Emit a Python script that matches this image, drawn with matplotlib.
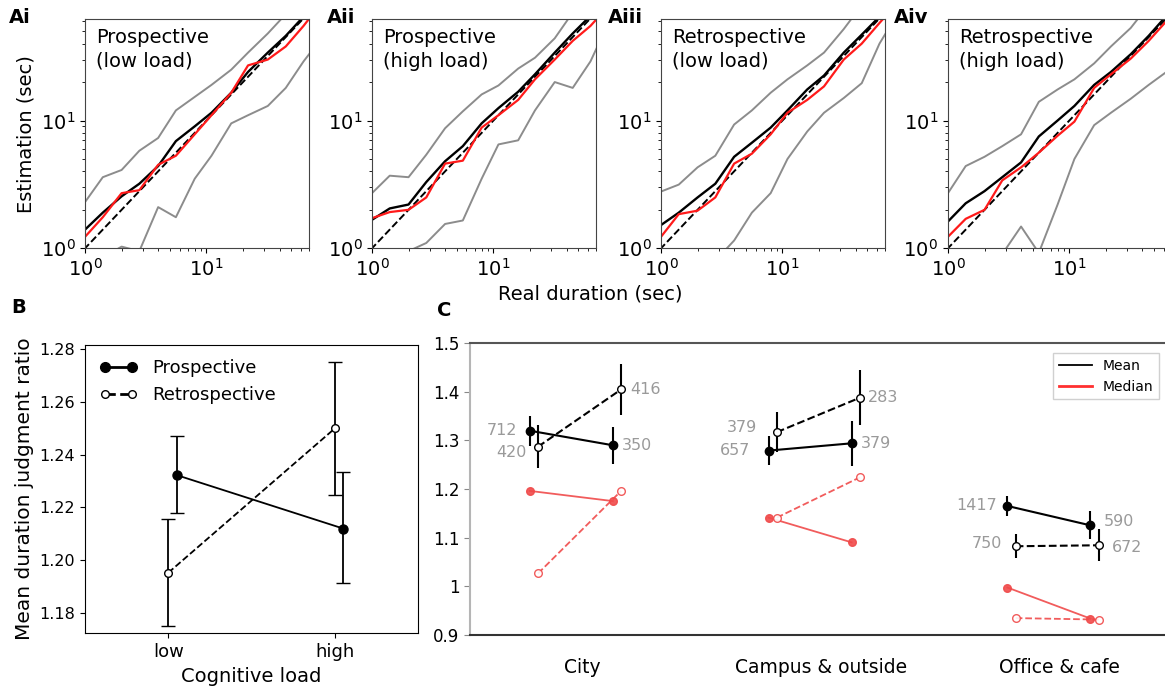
import matplotlib.pyplot as plt
from matplotlib.lines import Line2D

plt.rcParams['font.family'] = 'DejaVu Sans'

# ---- panel A data: real durations (sec) and estimations (sec)
real_dur = [1, 1.4, 2, 2.8, 4, 5.6, 8, 11, 16, 22, 32, 45, 63, 90]

a_tags = ['Ai', 'Aii', 'Aiii', 'Aiv']
a_titles = ['Prospective\n(low load)', 'Prospective\n(high load)',
            'Retrospective\n(low load)', 'Retrospective\n(high load)']

a_mean = [
    [1.4, 1.9, 2.55, 3.2, 4.4, 6.9, 9.0, 11.5, 16.5, 24, 34, 46, 65, 90],
    [1.67, 2.05, 2.2, 3.3, 4.8, 6.3, 9.5, 12.5, 16.8, 23, 34, 48, 66, 92],
    [1.52, 1.9, 2.5, 3.2, 5.2, 6.7, 8.8, 12, 17.5, 22.5, 34, 47, 65, 90],
    [1.62, 2.25, 2.8, 3.6, 4.7, 7.5, 10, 13, 19, 24, 33, 46, 66, 90],
]
a_median = [
    [1.23, 1.75, 2.7, 2.85, 4.5, 5.3, 7.8, 11, 16.5, 27, 30, 38, 55, 85],
    [1.72, 1.92, 2.0, 2.5, 4.6, 4.85, 8.8, 11, 14.5, 21, 30, 42, 55, 80],
    [1.23, 1.85, 1.97, 2.5, 4.6, 5.5, 7.8, 11.5, 14.5, 18.5, 30, 40, 58, 85],
    [1.23, 1.7, 2.0, 3.4, 4.3, 5.6, 7.6, 9.8, 18, 23, 30.5, 42, 60, 85],
]
a_upper = [
    [2.3, 3.6, 4.1, 5.8, 7.3, 12, 15.3, 19, 25, 34, 48, 68, 95, 130],
    [2.7, 3.7, 3.6, 5.4, 8.7, 11.8, 16, 18.8, 25.5, 31, 44, 70, 100, 140],
    [2.78, 3.15, 4.3, 5.3, 9.3, 12, 16.5, 21, 27, 34, 52, 80, 110, 150],
    [2.7, 4.4, 5.2, 6.3, 7.8, 14, 17.5, 21, 28, 38, 53, 80, 110, 150],
]
a_lower = [
    [0.6, 0.85, 1.03, 0.95, 2.1, 1.75, 3.5, 5.3, 9.5, 11, 13, 18, 29, 45],
    [0.75, 0.85, 0.95, 1.1, 1.55, 1.65, 3.5, 6.5, 7.0, 12, 20, 18, 29, 60],
    [0.4, 0.5, 0.62, 0.8, 1.15, 1.9, 2.7, 5.0, 8.2, 11.5, 15, 19.6, 40, 70],
    [0.5, 0.6, 0.7, 0.9, 1.48, 0.92, 2.2, 5.0, 9.2, 11.5, 14.8, 19, 24, 35],
]

# ---- panel B data
b_loads = ['low', 'high']
b_pro = [1.2323, 1.2120]
b_pro_lo = [1.2180, 1.1912]
b_pro_hi = [1.2471, 1.2333]
b_retro = [1.1952, 1.2500]
b_retro_lo = [1.1750, 1.2247]
b_retro_hi = [1.2158, 1.2753]

# ---- panel C data (low load, high load) per place
c_places = ['City', 'Campus & outside', 'Office & cafe']
c_mean_pro = [[1.320, 1.290], [1.279, 1.294], [1.165, 1.125]]
c_err_pro = [[0.031, 0.038], [0.030, 0.046], [0.020, 0.029]]
c_mean_retro = [[1.287, 1.405], [1.317, 1.388], [1.082, 1.084]]
c_err_retro = [[0.044, 0.052], [0.041, 0.056], [0.025, 0.033]]
c_med_pro = [[1.196, 1.175], [1.141, 1.090], [0.997, 0.933]]
c_med_retro = [[1.026, 1.196], [1.141, 1.224], [0.934, 0.931]]
c_n_pro = [[712, 350], [657, 379], [1417, 590]]
c_n_retro = [[420, 416], [379, 283], [750, 672]]

fig = plt.figure(figsize=(11.65, 6.91), dpi=100)

# ---------------- A panels
a_lefts = [0.073, 0.3193, 0.5674, 0.8137]
tag_x = [0.008, 0.281, 0.522, 0.767]
for i in range(4):
    ax = fig.add_axes([a_lefts[i], 0.6407, 0.1923, 0.3314])
    ax.plot([0.5, 200], [0.5, 200], 'k--', lw=1.4)
    ax.plot(real_dur, a_upper[i], color='#8c8c8c', lw=1.4)
    ax.plot(real_dur, a_lower[i], color='#8c8c8c', lw=1.4)
    ax.plot(real_dur, a_mean[i], color='k', lw=1.7)
    ax.plot(real_dur, a_median[i], color='#ff1a1a', lw=1.6)
    ax.set_xscale('log')
    ax.set_yscale('log')
    ax.set_xlim(1, 70)
    ax.set_ylim(1, 62)
    ax.tick_params(labelsize=14)
    ax.text(0.05, 0.96, a_titles[i], transform=ax.transAxes, ha='left',
            va='top', fontsize=14, linespacing=1.3)
    fig.text(tag_x[i], 0.988, a_tags[i], fontsize=14,
             fontweight='bold', va='top', ha='left')
    for s in ax.spines.values():
        s.set_color('#444444')
    if i == 0:
        ax.set_ylabel('Estimation (sec)', fontsize=14)
fig.text(0.507, 0.575, 'Real duration (sec)', fontsize=14, ha='center',
         va='center')

# ---------------- B panel
axb = fig.add_axes([0.073, 0.0835, 0.2858, 0.4172])
xb = list(range(len(b_loads)))
xb_pro = [x + 0.05 for x in xb]
axb.errorbar(xb_pro, b_pro,
             yerr=[[m - l for m, l in zip(b_pro, b_pro_lo)],
                   [h - m for m, h in zip(b_pro, b_pro_hi)]],
             color='k', lw=1.3, capsize=5, marker='o', ms=6.5, mfc='k')
axb.errorbar(xb, b_retro,
             yerr=[[m - l for m, l in zip(b_retro, b_retro_lo)],
                   [h - m for m, h in zip(b_retro, b_retro_hi)]],
             color='k', lw=1.3, ls='--', capsize=5, marker='o', ms=5.5,
             mfc='w', mec='k')
axb.set_xlim(-0.5, 1.5)
axb.set_ylim(1.1722, 1.2817)
axb.set_xticks(xb)
axb.set_xticklabels(b_loads, fontsize=13)
axb.set_yticks([1.18, 1.20, 1.22, 1.24, 1.26, 1.28])
axb.set_yticklabels(['1.18', '1.20', '1.22', '1.24', '1.26', '1.28'],
                    fontsize=11.5)
axb.set_xlabel('Cognitive load', fontsize=14)
axb.set_ylabel('Mean duration judgment ratio', fontsize=14.5)
hb = [Line2D([], [], color='k', lw=2, marker='o', ms=7, mfc='k'),
      Line2D([], [], color='k', lw=2, ls='--', marker='o', ms=5.5, mfc='w')]
axb.legend(hb, ['Prospective', 'Retrospective'], loc='upper left',
           numpoints=2, frameon=False, fontsize=13, handlelength=2.1,
           borderaxespad=0.4)
fig.text(0.010, 0.555, 'B', fontsize=14, fontweight='bold', va='center')

# ---------------- C panel
axc = fig.add_axes([0.4034, 0.0816, 0.5966, 0.4216])
off_pro = [-0.22, 0.128]
off_retro = [-0.185, 0.163]
gray_txt = '#9a9a9a'
red_c = '#f04a4a'
lbl_pro = [[(-8.6, 0), (6.5, 0)], [(-13.5, 0), (6.5, 0)], [(-7.2, 0), (9.4, 3)]]
lbl_retro = [[(-8.4, -4.5), (6.5, 0)], [(-14, 3.3), (5.8, 0)],
             [(-9.6, 2.2), (9.4, -1.7)]]
for k in range(len(c_places)):
    xp = [k + o for o in off_pro]
    xr = [k + o for o in off_retro]
    axc.plot(xp, c_med_pro[k], color=red_c, lw=1.3, marker='o', ms=5.5,
             mfc=red_c, mec=red_c, alpha=0.9, zorder=2)
    axc.plot(xr, c_med_retro[k], color=red_c, lw=1.3, ls='--', marker='o',
             ms=5.5, mfc='w', mec=red_c, alpha=0.9, zorder=2)
    axc.errorbar(xp, c_mean_pro[k], yerr=c_err_pro[k], color='k', lw=1.5,
                 marker='o', ms=6, mfc='k', capsize=0, zorder=3)
    axc.errorbar(xr, c_mean_retro[k], yerr=c_err_retro[k], color='k', lw=1.5,
                 ls='--', marker='o', ms=5.5, mfc='w', mec='k', capsize=0,
                 zorder=3)
    for j in range(2):
        dx, dy = lbl_pro[k][j]
        axc.annotate(str(c_n_pro[k][j]), (xp[j], c_mean_pro[k][j]),
                     xytext=(dx, dy), textcoords='offset points',
                     ha='right' if dx < 0 else 'left', va='center',
                     color=gray_txt, fontsize=11.5)
        dx, dy = lbl_retro[k][j]
        axc.annotate(str(c_n_retro[k][j]), (xr[j], c_mean_retro[k][j]),
                     xytext=(dx, dy), textcoords='offset points',
                     ha='right' if dx < 0 else 'left', va='center',
                     color=gray_txt, fontsize=11.5)
axc.set_xlim(-0.47, 2.44)
axc.set_ylim(0.9, 1.5)
axc.set_yticks([0.9, 1.0, 1.1, 1.2, 1.3, 1.4, 1.5])
axc.set_yticklabels(['0.9', '1', '1.1', '1.2', '1.3', '1.4', '1.5'],
                    fontsize=12)
axc.set_xticks([0, 1, 2])
axc.set_xticklabels(c_places, fontsize=13.5)
axc.tick_params(axis='x', length=0, pad=17)
axc.set_xticks([1, 2], minor=True)
axc.tick_params(axis='x', which='minor', length=5, color='#555555')
axc.tick_params(axis='y', length=4, color='#888888')
axc.spines['right'].set_visible(False)
axc.spines['left'].set_color('#b5b5b5')
axc.spines['left'].set_linewidth(1.5)
axc.spines['top'].set_color('#555555')
axc.spines['top'].set_linewidth(1.5)
axc.spines['bottom'].set_color('#333333')
axc.spines['bottom'].set_linewidth(1.5)
hc = [Line2D([], [], color='k', lw=1.3), Line2D([], [], color='#ff3030', lw=2)]
axc.legend(hc, ['Mean', 'Median'], loc='upper right',
           bbox_to_anchor=(0.995, 0.489), bbox_transform=fig.transFigure,
           fontsize=10, handlelength=2.4, fancybox=False,
           edgecolor='#d0d0d0', framealpha=1, borderaxespad=0)
fig.text(0.375, 0.55, 'C', fontsize=14, fontweight='bold', va='center')

plt.savefig('out.png', dpi=100)
